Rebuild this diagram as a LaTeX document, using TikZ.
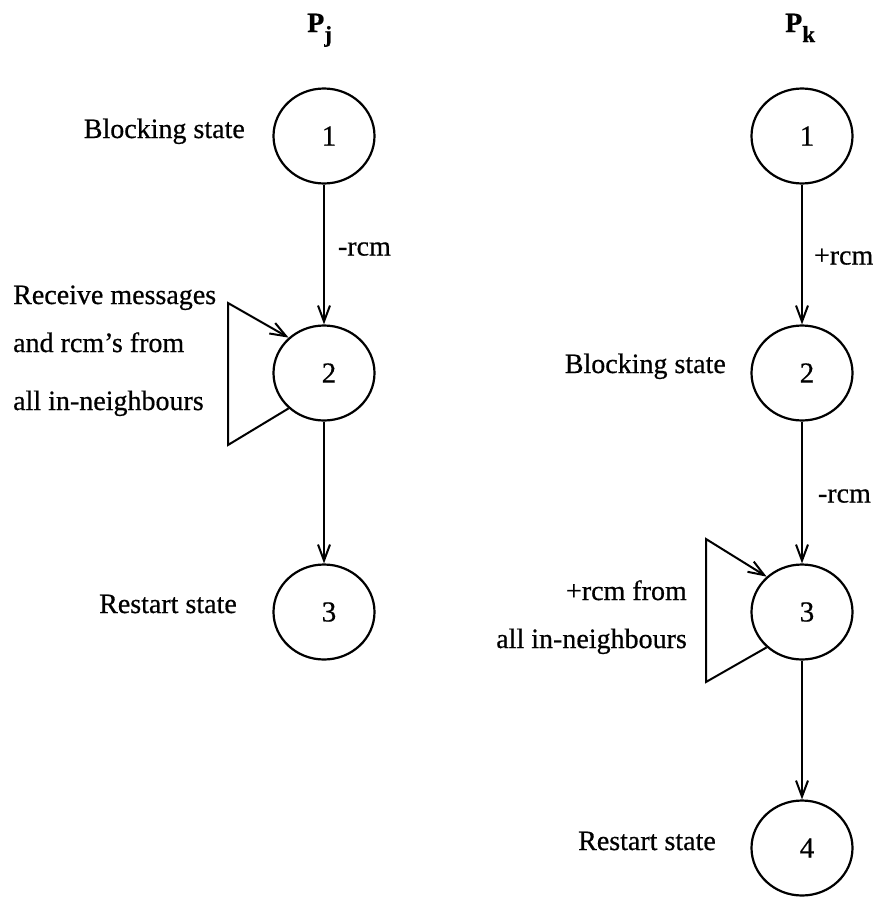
\documentclass[tikz,border=0pt]{standalone}
\usepackage{fontspec}
\setmainfont{Liberation Serif}[FakeBold=0.6]
\usetikzlibrary{arrows.meta,shapes.geometric}

\tikzset{
  state/.style={draw, ellipse, line width=2.2pt, minimum width=101pt, minimum height=95pt,
    inner sep=0pt, font=\fontsize{29}{32}\selectfont},
  flow/.style={line width=2pt, -{Straight Barb[length=16pt,width=12pt,line width=2pt]}},
  loopline/.style={line width=2pt, line join=miter},
  txt/.style={font=\fontsize{28}{34}\selectfont, inner sep=0pt},
  ptitle/.style={font=\fontsize{28}{30}\selectfont\bfseries, inner sep=0pt, anchor=base west}
}

\begin{document}
\begin{tikzpicture}[x=1pt,y=-1pt]
\useasboundingbox (0,0) rectangle (878,897);

% ---------- process P_j ----------
\node[ptitle] (tj) at (307,32) {P\raisebox{-10pt}{\fontsize{23}{23}\selectfont j}};

\node[state] (j1) at (324,136) {\hspace{10pt}1};
\node[state] (j2) at (324,373) {\hspace{10pt}2};
\node[state] (j3) at (324,612) {\hspace{10pt}3};

\node[txt, anchor=base east] (jb) at (245,138) {Blocking state};
\node[txt, anchor=base east] (jr) at (237,613) {Restart state};
\node[txt, anchor=base west] (jm1) at (13,304) {Receive messages};
\node[txt, anchor=base west] (jm2) at (13,352) {and rcm’s from};
\node[txt, anchor=base west] (jm3) at (13,410) {all in-neighbours};

\draw[flow] (j1) -- node[txt, anchor=base west, xshift=13pt, yshift=-1pt] (jl1) {-rcm} (j2);
\draw[flow] (j2) -- (j3);

% self-loop on state 2
\coordinate (jla) at (228,445);
\coordinate (jlb) at (228,303);
\draw[loopline, flow] (j2.225) -- (jla) -- (jlb) -- (j2.135);

% ---------- process P_k ----------
\node[ptitle] (tk) at (785,32) {P\raisebox{-10pt}{\fontsize{23}{23}\selectfont k}};

\node[state] (k1) at (802,136) {\hspace{10pt}1};
\node[state] (k2) at (802,373) {\hspace{10pt}2};
\node[state] (k3) at (802,612) {\hspace{10pt}3};
\node[state] (k4) at (802,848) {\hspace{10pt}4};

\node[txt, anchor=base east] (kb) at (726,373) {Blocking state};
\node[txt, anchor=base east] (kr) at (716,850) {Restart state};
\node[txt, anchor=base east] (km1) at (687,600) {+rcm from};
\node[txt, anchor=base east] (km2) at (687,648) {all in-neighbours};

\draw[flow] (k1) -- node[txt, anchor=base west, xshift=11pt, yshift=-10pt] (kl1) {+rcm} (k2);
\draw[flow] (k2) -- node[txt, anchor=base west, xshift=15pt, yshift=-10pt] (kl2) {-rcm} (k3);
\draw[flow] (k3) -- (k4);

% self-loop on state 3
\coordinate (kla) at (706,682);
\coordinate (klb) at (706,539);
\draw[loopline, flow] (k3.225) -- (kla) -- (klb) -- (k3.135);
\end{tikzpicture}
\end{document}
